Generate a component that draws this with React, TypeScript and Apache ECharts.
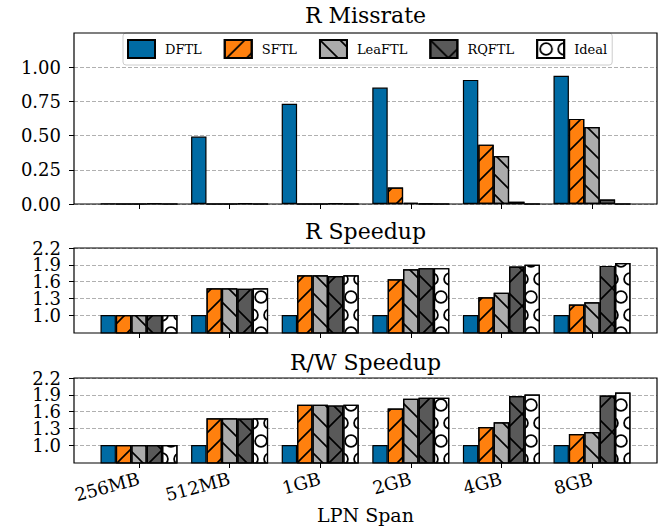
import React, { useEffect, useRef } from 'react';
import * as echarts from 'echarts';

// ---------- data ----------
const categories = ['256MB', '512MB', '1GB', '2GB', '4GB', '8GB'];
const seriesNames = ['DFTL', 'SFTL', 'LeaFTL', 'RQFTL', 'Ideal'];
const panelTitles = ['R Missrate', 'R Speedup', 'R/W Speedup'];
const xAxisTitle = 'LPN Span';

const missDFTL = [0.002, 0.493, 0.732, 0.851, 0.907, 0.937];
const missSFTL = [0, 0, 0, 0.12, 0.434, 0.622];
const missLeaFTL = [0, 0, 0, 0.008, 0.351, 0.563];
const missRQFTL = [0.004, 0.005, 0.005, 0.002, 0.017, 0.032];
const missIdeal = [0, 0, 0, 0, 0, 0];

const rDFTL = [1, 1, 1, 1, 1, 1];
const rSFTL = [1.0, 1.48, 1.714, 1.64, 1.32, 1.19];
const rLeaFTL = [1.0, 1.48, 1.714, 1.82, 1.4, 1.23];
const rRQFTL = [1.0, 1.47, 1.7, 1.84, 1.87, 1.88];
const rIdeal = [1.0, 1.48, 1.714, 1.84, 1.9, 1.93];

const rwDFTL = [1, 1, 1, 1, 1, 1];
const rwSFTL = [1.0, 1.48, 1.72, 1.654, 1.324, 1.198];
const rwLeaFTL = [1.0, 1.48, 1.72, 1.828, 1.408, 1.234];
const rwRQFTL = [1.0, 1.474, 1.71, 1.846, 1.876, 1.888];
const rwIdeal = [1.0, 1.48, 1.72, 1.846, 1.906, 1.942];

const missTicks = [0, 0.25, 0.5, 0.75, 1.0];
const speedTicks = [1.0, 1.3, 1.6, 1.9, 2.2];

// ---------- styling ----------
const FONT = '"DejaVu Serif", serif';
const colors = ['#006BA4', '#FF800E', '#ABABAB', '#595959', '#FFFFFF'];

const slashPath =
  'path://M0 18.85 L18.85 0 L20 0 L20 1.15 L1.15 20 L0 20 Z M0 0 L1.15 0 L0 1.15 Z M20 18.85 L20 20 L18.85 20 Z';
const backPath =
  'path://M0 0 L1.15 0 L20 18.85 L20 20 L18.85 20 L0 1.15 Z M0 18.85 L1.15 20 L0 20 Z M18.85 0 L20 0 L20 1.15 Z';
const crossPath =
  'path://M0 34.85 L34.85 0 L36 0 L36 1.15 L1.15 36 L0 36 Z M0 0 L1.15 0 L36 34.85 L36 36 L34.85 36 L0 1.15 Z';
const circlePath =
  'path://M0 0 L0.01 0 L0 0.01 Z M18 36 L17.99 36 L18 35.99 Z ' +
  'M2.2 9 A6.8 6.8 0 0 0 15.8 9 A6.8 6.8 0 0 0 2.2 9 Z M4 9 A5 5 0 0 1 14 9 A5 5 0 0 1 4 9 Z ' +
  'M0 20.2 A6.8 6.8 0 0 1 0 33.8 L0 32 A5 5 0 0 0 0 22 Z ' +
  'M18 33.8 A6.8 6.8 0 0 1 18 20.2 L18 22 A5 5 0 0 0 18 32 Z';

const mkDecal = (symbol: string, w: number, h: number) => ({
  symbol,
  symbolSize: 1,
  symbolKeepAspect: false,
  dashArrayX: [w, 0],
  dashArrayY: [h, 0],
  rotation: 0,
  color: '#000',
  backgroundColor: null,
});
const decals: any[] = [
  null,
  mkDecal(slashPath, 20, 20),
  mkDecal(backPath, 20, 20),
  mkDecal(crossPath, 36, 36),
  mkDecal(circlePath, 18, 36),
];

// ---------- layout ----------
const FRAME_L = 74;
const FRAME_R = 657;
const X_MIN = -0.7175;
const X_MAX = 5.7175;
const UNIT = (FRAME_R - FRAME_L) / (X_MAX - X_MIN);
const BAR_W = 0.17 * UNIT;
const panels = [
  { top: 33, height: 171, min: 0, max: 1.25, ticks: missTicks, digits: 2, titleY: 15 },
  { top: 248, height: 85, min: 0.68, max: 2.2, ticks: speedTicks, digits: 1, titleY: 231.5 },
  { top: 378, height: 85, min: 0.68, max: 2.2, ticks: speedTicks, digits: 1, titleY: 362 },
];
const panelData = [
  [missDFTL, missSFTL, missLeaFTL, missRQFTL, missIdeal],
  [rDFTL, rSFTL, rLeaFTL, rRQFTL, rIdeal],
  [rwDFTL, rwSFTL, rwLeaFTL, rwRQFTL, rwIdeal],
];

function buildOption() {
  const grids: any[] = [];
  const xAxes: any[] = [];
  const yAxes: any[] = [];
  const series: any[] = [];
  const graphics: any[] = [];
  const bLeft = FRAME_L + (-X_MIN - 0.5) * UNIT;
  const bWidth = categories.length * UNIT;

  panels.forEach((p, pi) => {
    const a = pi * 2;
    const b = pi * 2 + 1;
    grids.push({ left: FRAME_L, width: FRAME_R - FRAME_L, top: p.top, height: p.height, show: false });
    grids.push({ left: bLeft, width: bWidth, top: p.top, height: p.height, show: false });
    xAxes.push({ gridIndex: a, type: 'value', show: false, min: 0, max: 1 });
    xAxes.push({
      gridIndex: b,
      type: 'category',
      data: categories,
      boundaryGap: true,
      axisLine: { show: false },
      axisTick: { show: true, alignWithLabel: true, length: 5, lineStyle: { color: '#000', width: 1 } },
      axisLabel: {
        show: pi === 2,
        interval: 0,
        rotate: 15,
        margin: 15,
        fontFamily: FONT,
        fontSize: 18,
        color: '#000',
      },
      splitLine: { show: false },
    });

    // two label axes (alternate ticks) so that crowded labels are all kept
    const tickSets = [
      p.ticks.filter((_, i) => i % 2 === 0),
      p.ticks.filter((_, i) => i % 2 === 1),
    ];
    tickSets.forEach((tv) => {
      yAxes.push({
        gridIndex: a,
        type: 'value',
        position: 'left',
        offset: 0,
        min: p.min,
        max: p.max,
        axisLine: { show: false },
        axisTick: { show: true, length: 5, customValues: tv, lineStyle: { color: '#000', width: 1 } },
        axisLabel: {
          customValues: tv,
          showMinLabel: true,
          showMaxLabel: true,
          margin: 13,
          fontFamily: FONT,
          fontSize: 18,
          color: '#000',
          formatter: (v: number) => Number(v).toFixed(p.digits),
        },
        splitLine: {
          show: true,
          showMinLine: true,
          showMaxLine: true,
          lineStyle: { color: '#b0b0b0', width: 1, type: [4, 2] },
        },
      });
    });
    const hiddenY = yAxes.length;
    yAxes.push({ gridIndex: b, type: 'value', min: p.min, max: p.max, show: false, splitLine: { show: false } });

    seriesNames.forEach((name, si) => {
      const itemStyle: any = { color: colors[si], borderColor: '#000', borderWidth: 1.2 };
      if (decals[si]) itemStyle.decal = decals[si];
      series.push({
        type: 'bar',
        name,
        xAxisIndex: b,
        yAxisIndex: hiddenY,
        data: panelData[pi][si],
        barWidth: BAR_W,
        barGap: '0%',
        itemStyle,
        emphasis: { disabled: true },
      });
    });

    graphics.push({
      type: 'rect',
      silent: true,
      z: 100,
      shape: { x: FRAME_L, y: p.top, width: FRAME_R - FRAME_L, height: p.height },
      style: { fill: 'none', stroke: '#000', lineWidth: 1.2 },
    });
    graphics.push({
      type: 'text',
      silent: true,
      x: (FRAME_L + FRAME_R) / 2,
      y: p.titleY,
      style: {
        text: panelTitles[pi],
        fontFamily: FONT,
        fontSize: 22,
        fill: '#000',
        align: 'center',
        verticalAlign: 'middle',
        textAlign: 'center',
        textVerticalAlign: 'middle',
      },
    });
  });

  graphics.push({
    type: 'text',
    silent: true,
    x: (FRAME_L + FRAME_R) / 2,
    y: 515,
    style: {
      text: xAxisTitle,
      fontFamily: FONT,
      fontSize: 19,
      fill: '#000',
      align: 'center',
      verticalAlign: 'middle',
      textAlign: 'center',
      textVerticalAlign: 'middle',
    },
  });

  return {
    animation: false,
    textStyle: { fontFamily: FONT },
    legend: {
      data: seriesNames,
      left: 123,
      top: 33,
      orient: 'horizontal',
      itemWidth: 27,
      itemHeight: 18,
      itemGap: 22,
      padding: [6, 5, 6, 4],
      backgroundColor: 'rgba(255,255,255,0.8)',
      borderColor: '#cccccc',
      borderWidth: 1,
      borderRadius: 3,
      selectedMode: false,
      icon: 'rect',
      textStyle: { fontFamily: FONT, fontSize: 13, color: '#000', padding: [0, 0, 0, 5] },
    },
    grid: grids,
    xAxis: xAxes,
    yAxis: yAxes,
    series,
    graphic: { elements: graphics },
  };
}

export default function App() {
  const ref = useRef<HTMLDivElement>(null);
  useEffect(() => {
    if (!ref.current) return;
    const chart = echarts.init(ref.current, null, { renderer: 'svg' });
    chart.setOption(buildOption() as any);
    return () => chart.dispose();
  }, []);
  return (
    <div
      ref={ref}
      style={{ position: 'absolute', left: 0, top: 0, width: 660, height: 527, background: '#fff' }}
    />
  );
}
